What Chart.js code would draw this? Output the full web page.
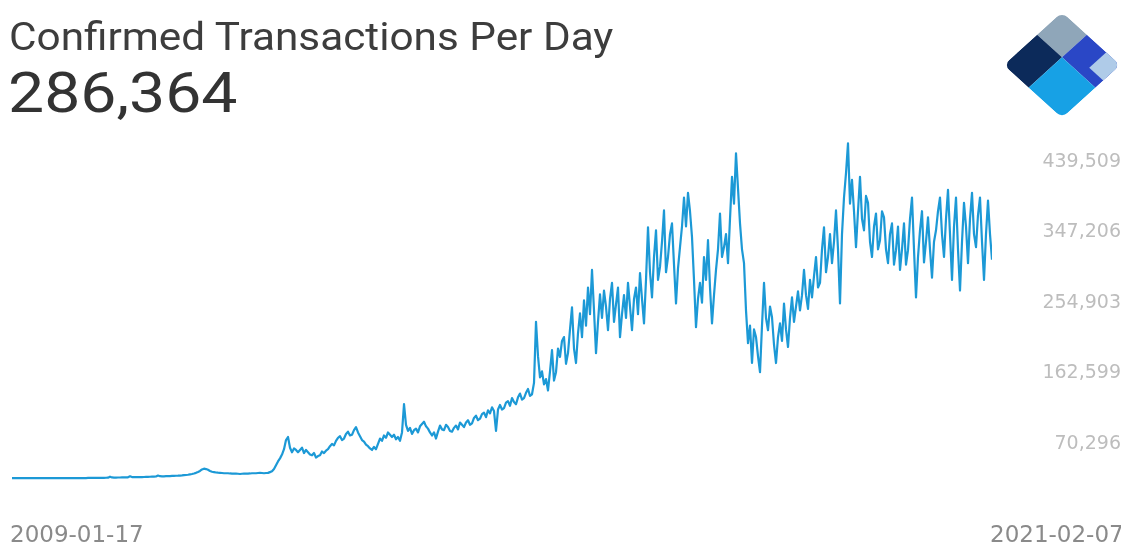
<!DOCTYPE html>
<html><head><meta charset="utf-8">
<script src="https://cdn.jsdelivr.net/npm/chart.js@4.4.0/dist/chart.umd.min.js"></script>
<style>
html,body{margin:0;padding:0;background:#fff;width:1121px;height:545px;overflow:hidden;font-family:Roboto,"Noto Sans",sans-serif;}
#wrap{position:relative;width:1121px;height:545px;overflow:hidden;}
#c{position:absolute;left:0;top:0;}
.title{position:absolute;left:9px;top:18px;font-size:38px;color:#3d3d3d;white-space:nowrap;line-height:1;transform:scaleX(1.113);transform-origin:0 0;}
.big{position:absolute;left:8px;top:65px;font-size:56px;color:#333;line-height:1;transform:scaleX(1.148);transform-origin:0 0;}
.xl{position:absolute;top:523px;font-family:"DejaVu Sans",sans-serif;font-size:23px;color:#8a8a8a;line-height:1;white-space:nowrap;}
#logo{position:absolute;left:0;top:0;pointer-events:none;}
</style></head><body>
<div id="wrap">
<canvas id="c" width="1121" height="545"></canvas>
<div class="title" id="title"></div>
<div class="big" id="big"></div>
<div class="xl" style="left:10px" id="xs"></div>
<div class="xl" style="left:990px" id="xe"></div>
<svg id="logo" width="1121" height="545">
  <defs><clipPath id="dm"><rect x="0" y="0" width="75" height="75" rx="7" ry="7"/></clipPath></defs>
  <g transform="translate(1062,12) scale(1.1,1) rotate(45)" clip-path="url(#dm)">
    <rect x="0" y="0" width="32" height="32" fill="#8fa6b9"/>
    <rect x="32" y="0" width="43" height="32" fill="#2a47c6"/>
    <rect x="57" y="0" width="18" height="22" fill="#afcbe8"/>
    <rect x="0" y="32" width="32" height="43" fill="#0c2a5a"/>
    <rect x="32" y="32" width="43" height="43" fill="#17a1e5"/>
  </g>
</svg>
</div>
<script>
const chartTitle = 'Confirmed Transactions Per Day';
const latestValue = 286364;
const dateLabels = ['2009-01-17', '2021-02-07'];
const yTickValues = [439509, 347206, 254903, 162599, 70296];
// confirmed transactions per day (thousands), evenly spaced samples from 2009-01-17 to 2021-02-07
const txPerDayK = [
0.1,0.1,0.1,0.1,0.1,0.1,0.1,0.1,0.1,0.1,0.1,0.1,
0.2,0.2,0.2,0.2,0.2,0.2,0.2,0.2,0.2,0.2,0.2,0.2,0.2,
0.2,0.2,0.2,0.2,0.2,0.2,0.2,0.2,0.2,0.2,0.2,0.2,0.2,
0.3,0.3,0.3,0.3,0.3,0.3,
0.4,0.4,0.5,0.6,0.7,2.0,1.0,0.8,0.8,0.9,
0.9,1.0,1.0,1.1,1.2,2.5,1.5,1.3,1.3,1.4,
1.5,1.5,1.6,1.7,1.8,1.9,2.0,2.1,2.2,3.5,
2.6,2.4,2.5,2.6,2.7,2.8,3.0,3.1,3.2,3.3,
3.5,3.7,4.0,4.2,4.5,5.0,5.5,6.2,7.0,8.2,
9.5,11.5,12.5,12.0,11.0,9.5,8.5,8.0,7.5,7.2,
7.0,6.8,6.5,6.5,6.5,6.2,6.0,6.0,6.0,5.8,
5.5,5.8,6.0,6.0,6.0,6.2,6.5,6.5,6.5,6.8,
7.0,6.8,6.5,6.8,7.0,8.0,
9,12,17,22,26,31,38,50,54,40,
34,39,37,34,37,40,33,37,34,31,
30,33,27,29,30,35,33,36,38,42,
45,43,49,53,55,50,52,58,61,56,
57,63,67,60,55,50,48,44,42,39,
37,41,38,45,52,49,56,53,60,57,
54,57,51,54,49,60,97,70,62,66,
58,63,65,60,68,71,74,68,65,60,
56,60,52,61,69,64,63,70,67,62,
61,66,69,64,73,70,67,73,76,70,
72,79,82,76,78,84,86,80,89,85,
93,88,62,90,96,90,92,99,101,95,
105,100,97,106,111,103,105,112,117,108,
110,125,205,160,132,140,123,130,115,140,
168,128,139,170,159,180,185,150,164,195,
224,170,151,190,216,185,233,200,250,215,
273,220,164,205,241,210,246,225,194,235,
256,205,228,250,185,215,240,210,256,225,
194,235,250,215,269,235,203,260,329,270,
237,290,325,260,277,310,351,270,290,320,
334,280,229,275,303,330,368,330,374,350,
316,260,198,235,256,230,290,260,312,250,
203,240,273,300,347,290,303,320,282,340,
395,360,426,380,334,300,282,220,177,200,
151,195,185,160,139,200,256,210,194,225,
211,175,151,185,203,180,229,195,172,210,
237,205,225,245,220,240,273,240,222,260,
237,265,290,250,256,300,329,270,290,320,
282,310,351,300,229,320,368,400,439,360,
391,350,303,350,395,340,325,370,361,310,
290,330,347,300,312,350,342,300,282,320,
334,280,299,330,273,300,334,280,299,340,
368,300,237,290,325,350,283,310,342,300,
263,310,325,350,368,320,290,340,378,320,
260,330,368,300,246,310,361,330,282,340,
374,320,303,345,368,310,260,320,364,320,
286.364
];

const fmt = v => Math.round(v).toLocaleString('en-US');
document.getElementById('title').textContent = chartTitle;
document.getElementById('big').textContent = fmt(latestValue);
document.getElementById('xs').textContent = dateLabels[0];
document.getElementById('xe').textContent = dateLabels[1];

const points = txPerDayK.map((v, i) => ({x: i, y: v * 1000}));
const tickFont = {family: 'DejaVu Sans', size: 19};
const mctx = document.createElement('canvas').getContext('2d');
mctx.font = tickFont.size + 'px "' + tickFont.family + '"';
const widest = Math.max(...yTickValues.map(v => mctx.measureText(fmt(v)).width));
const axisWidth = 129;
const labelRight = 116;

new Chart(document.getElementById('c'), {
  type: 'line',
  data: {datasets: [{data: points, borderColor: '#1c99d6', borderWidth: 2.2, pointRadius: 0, tension: 0, fill: false, borderJoinStyle: 'round'}]},
  options: {
    responsive: false, animation: false, devicePixelRatio: 1,
    layout: {padding: {left: 12, right: 0, top: 130, bottom: 55}},
    plugins: {legend: {display: false}, tooltip: {enabled: false}},
    scales: {
      x: {type: 'linear', display: false, min: 0, max: txPerDayK.length - 1},
      y: {
        type: 'linear', position: 'right', min: -15470, max: 456490,
        afterBuildTicks: s => { s.ticks = yTickValues.map(v => ({value: v})); },
        afterFit: s => { s.width = axisWidth; },
        grid: {display: false, drawTicks: false}, border: {display: false},
        ticks: {callback: v => fmt(v), color: '#bdbdbd', font: tickFont, crossAlign: 'far', padding: labelRight - widest, labelOffset: 19}
      }
    }
  }
});
</script>
</body></html>
